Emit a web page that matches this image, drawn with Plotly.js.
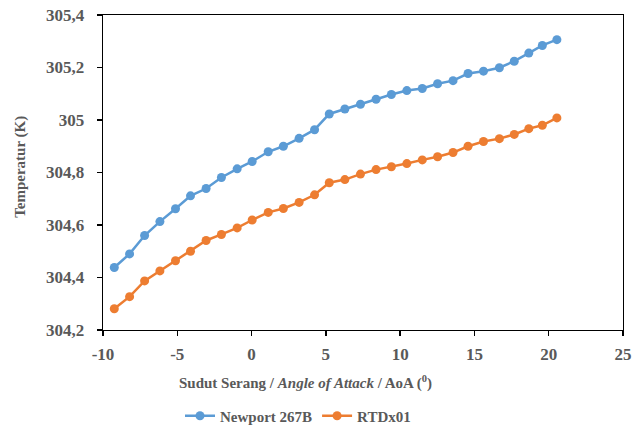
<!DOCTYPE html>
<html>
<head>
<meta charset="utf-8">
<script src="https://cdn.plot.ly/plotly-3.0.1.min.js"></script>
<style>html,body{margin:0;padding:0;background:#fff;}#chart{width:635px;height:430px;}</style>
</head>
<body>
<div id="chart"></div>
<script>
// Angle of attack (degrees)
const aoa = [-9.24, -8.21, -7.20, -6.17, -5.12, -4.11, -3.06, -2.03, -0.97, 0.04,
             1.12, 2.14, 3.20, 4.24, 5.23, 6.28, 7.33, 8.38, 9.41, 10.45,
             11.49, 12.52, 13.56, 14.57, 15.61, 16.68, 17.68, 18.66, 19.57, 20.55];
// Newport 267B temperature (K)
const newport = [304.438, 304.490, 304.560, 304.613, 304.662, 304.711, 304.739, 304.781, 304.814, 304.842,
                 304.879, 304.900, 304.930, 304.963, 305.023, 305.042, 305.060, 305.079, 305.097, 305.112,
                 305.120, 305.138, 305.150, 305.177, 305.186, 305.199, 305.224, 305.255, 305.284, 305.306];
// RTDx01 temperature (K)
const rtd = [304.281, 304.327, 304.387, 304.425, 304.464, 304.500, 304.541, 304.564, 304.589, 304.619,
             304.648, 304.663, 304.686, 304.715, 304.761, 304.773, 304.794, 304.811, 304.822, 304.834,
             304.848, 304.860, 304.876, 304.900, 304.918, 304.929, 304.945, 304.967, 304.980, 305.008];
const seriesNames = ['Newport 267B', 'RTDx01'];
const xTickVals = [-10, -5, 0, 5, 10, 15, 20, 25];
const xTickText = ['-10', '-5', '0', '5', '10', '15', '20', '25'];
const yTickVals = [304.2, 304.4, 304.6, 304.8, 305.0, 305.2, 305.4];
const yTickText = ['304,2', '304,4', '304,6', '304,8', '305', '305,2', '305,4'];
const xTitle = 'Sudut Serang / <i>Angle of Attack</i> / AoA (<sup>0</sup>)';
const yTitle = 'Temperatur (K)';

const FONT = 'Liberation Serif';
const GREY = '#595959';
const f = (s) => ({family: FONT, size: s, color: GREY, weight: 'bold'});

const traces = [
  {x: aoa, y: newport, name: seriesNames[0], type: 'scatter', mode: 'lines+markers',
   line: {color: '#5B9BD5', width: 2.5}, marker: {color: '#5B9BD5', size: 9}},
  {x: aoa, y: rtd, name: seriesNames[1], type: 'scatter', mode: 'lines+markers',
   line: {color: '#ED7D31', width: 2.5}, marker: {color: '#ED7D31', size: 9}}
];

const layout = {
  width: 635, height: 430,
  margin: {l: 103, r: 12, t: 15, b: 100, autoexpand: false},
  paper_bgcolor: '#fff', plot_bgcolor: '#fff',
  font: f(15),
  showlegend: true,
  legend: {orientation: 'h', x: 0.375, xanchor: 'center', y: -0.273, yanchor: 'middle',
           font: f(15), traceorder: 'normal', itemwidth: 30},
  xaxis: {range: [-10, 25], tickmode: 'array', tickvals: xTickVals, ticktext: xTickText,
          showgrid: false, zeroline: false, automargin: false,
          showline: true, linecolor: '#000', linewidth: 1.3, mirror: true,
          ticks: 'outside', ticklen: 5, tickcolor: '#000', tickwidth: 1.3,
          ticklabelstandoff: 3, tickfont: f(17)},
  yaxis: {range: [304.2, 305.4], tickmode: 'array', tickvals: yTickVals, ticktext: yTickText,
          showgrid: false, zeroline: false, automargin: false,
          showline: true, linecolor: '#000', linewidth: 1.3, mirror: true,
          ticks: 'outside', ticklen: 5, tickcolor: '#000', tickwidth: 1.3,
          ticklabelstandoff: 9, tickfont: f(17)},
  annotations: [
    {text: xTitle, xref: 'paper', yref: 'paper', x: 0.39, y: -0.168, xanchor: 'center', yanchor: 'middle',
     showarrow: false, font: f(15)},
    {text: yTitle, xref: 'paper', yref: 'paper', x: -0.159, y: 0.5, xanchor: 'center', yanchor: 'middle',
     yshift: 6, textangle: -90, showarrow: false, font: f(15)}
  ]
};

Plotly.newPlot('chart', traces, layout, {displayModeBar: false, staticPlot: true});
</script>
</body>
</html>
